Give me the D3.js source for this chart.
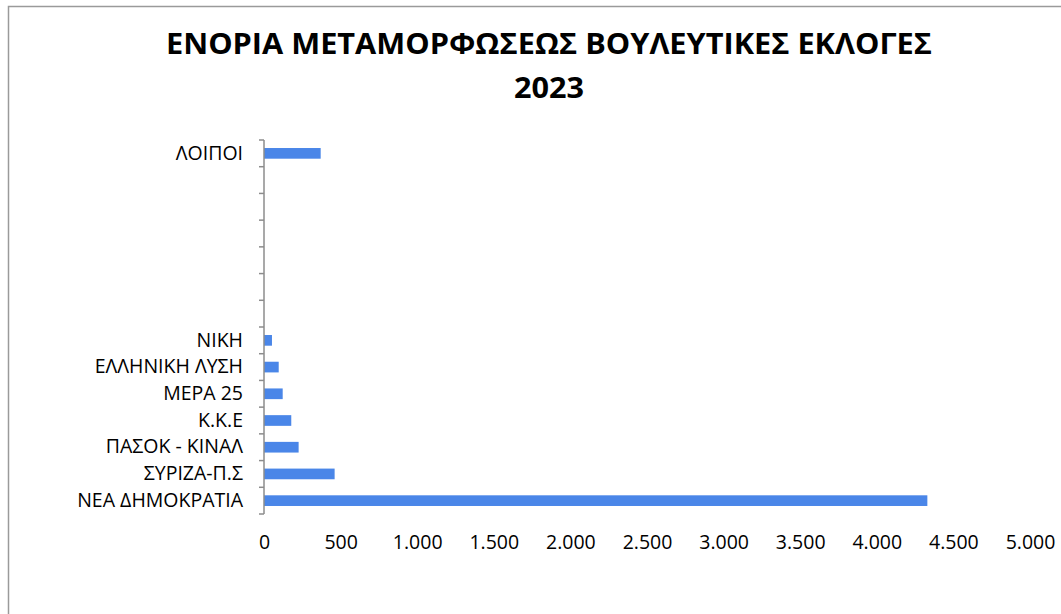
<!DOCTYPE html>
<html>
<head>
<meta charset="utf-8">
<script src="https://cdn.jsdelivr.net/npm/d3@7"></script>
<style>
  html, body { margin: 0; padding: 0; background: #fff; }
  svg { display: block; }
  text { font-family: "Open Sans", "Noto Sans", sans-serif; fill: #000; }
</style>
</head>
<body>
<svg id="chart" width="1061" height="614"></svg>
<script>
// ---- data (bottom to top) ----
const categories = ["ΝΕΑ ΔΗΜΟΚΡΑΤΙΑ", "ΣΥΡΙΖΑ-Π.Σ", "ΠΑΣΟΚ - ΚΙΝΑΛ", "Κ.Κ.Ε", "ΜΕΡΑ 25",
                    "ΕΛΛΗΝΙΚΗ ΛΥΣΗ", "ΝΙΚΗ", "", "", "", "", "", "", "ΛΟΙΠΟΙ"];
const votes = [4330, 461, 226, 178, 122, 96, 52, 0, 0, 0, 0, 0, 0, 370];
const xTicks = [0, 500, 1000, 1500, 2000, 2500, 3000, 3500, 4000, 4500, 5000];
const titleLines = ["ΕΝΟΡΙΑ ΜΕΤΑΜΟΡΦΩΣΕΩΣ ΒΟΥΛΕΥΤΙΚΕΣ ΕΚΛΟΓΕΣ", "2023"];

const svg = d3.select("#chart");
const W = 1061, H = 614;

svg.append("rect").attr("width", W).attr("height", H).attr("fill", "#fff");
// chart frame
svg.append("rect").attr("x", 8.5).attr("y", 6.5).attr("width", 1200).attr("height", 800)
  .attr("fill", "none").attr("stroke", "#9a9a9a").attr("stroke-width", 1.5);

// title
const titleWidths = [766, 70];
svg.append("g").selectAll("text").data(titleLines).enter().append("text")
  .attr("x", 549).attr("y", (d, i) => 54 + i * 44)
  .attr("text-anchor", "middle")
  .style("font-size", "29px").style("font-weight", "bold")
  .attr("textLength", (d, i) => titleWidths[i]).attr("lengthAdjust", "spacingAndGlyphs")
  .text(d => d);

const x = d3.scaleLinear().domain([0, 5000]).range([264, 1030]);
const idx = categories.map((d, i) => i);
const y = d3.scaleBand().domain(idx).range([514, 140]).paddingInner(0.6).paddingOuter(0.3);

const fmt = d3.formatLocale({decimal: ",", thousands: ".", grouping: [3], currency: ["", "€"]}).format(",");

// bars
svg.append("g").selectAll("rect").data(idx.filter(i => votes[i] > 0)).enter().append("rect")
  .attr("x", x(0))
  .attr("y", i => y(i))
  .attr("width", i => x(votes[i]) - x(0))
  .attr("height", y.bandwidth())
  .attr("fill", "#4a86e8");

// y axis (labels)
const yAxis = svg.append("g").attr("transform", `translate(${x(0)},0)`)
  .call(d3.axisLeft(y).tickSize(0).tickPadding(21).tickFormat(i => categories[i]));
yAxis.select(".domain").remove();
yAxis.selectAll("text").style("font-size", "19.5px").style("font-family", "'Open Sans', sans-serif").attr("fill", "#000");

// y axis line and boundary ticks
const axisColor = "#8c8c8c";
const step = y.step();
const bounds = idx.map(i => y(i) + y.bandwidth() / 2 + step / 2).concat([y(idx[idx.length - 1]) + y.bandwidth() / 2 - step / 2]);
svg.append("line").attr("x1", x(0)).attr("x2", x(0))
  .attr("y1", d3.min(bounds)).attr("y2", d3.max(bounds))
  .attr("stroke", axisColor).attr("stroke-width", 1.5);
svg.append("g").selectAll("line").data(bounds).enter().append("line")
  .attr("x1", x(0) - 5).attr("x2", x(0))
  .attr("y1", d => d).attr("y2", d => d)
  .attr("stroke", axisColor).attr("stroke-width", 1.5);

// x axis (labels only)
const xAxis = svg.append("g").attr("transform", "translate(0,535)")
  .call(d3.axisBottom(x).tickValues(xTicks).tickSize(0).tickPadding(0).tickFormat(fmt));
xAxis.select(".domain").remove();
xAxis.selectAll("text").style("font-size", "19.5px").style("font-family", "'Open Sans', sans-serif").attr("fill", "#000");
</script>
</body>
</html>
